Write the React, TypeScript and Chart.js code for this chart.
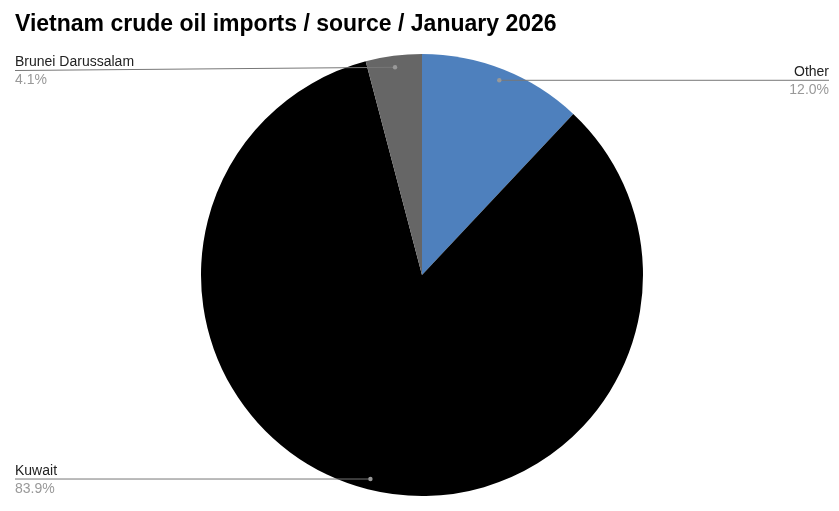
import React, { useEffect, useRef } from "react";
import { Chart, registerables } from "chart.js";

Chart.register(...registerables);

const TITLE = "Vietnam crude oil imports / source / January 2026";
const categories = ["Other", "Kuwait", "Brunei Darussalam"];
const values = [12.0, 83.9, 4.1];
const percentLabels = ["12.0%", "83.9%", "4.1%"];
const colors = ["#4e80bd", "#000000", "#666666"];
const labelSide = ["right", "left", "left"];

const labelPlugin = {
  id: "leaderLabels",
  afterDraw(chart: any) {
    const ctx = chart.ctx;
    const meta = chart.getDatasetMeta(0);
    ctx.save();
    // Title
    ctx.font = "bold 23px 'Liberation Sans', Arial, sans-serif";
    ctx.fillStyle = "#000";
    ctx.textAlign = "left";
    ctx.textBaseline = "alphabetic";
    ctx.fillText(TITLE, 15, 31);

    meta.data.forEach((arc: any, i: number) => {
      const p = arc.getProps(["x", "y", "startAngle", "endAngle", "outerRadius"], true);
      const mid = (p.startAngle + p.endAngle) / 2;
      const d = p.outerRadius * 0.95;
      const dx = p.x + Math.cos(mid) * d;
      const dy = p.y + Math.sin(mid) * d;
      const side = labelSide[i];
      let ly = dy;
      if (ly < 70) ly = 70;
      const lx = side === "right" ? 829 : 15;
      ctx.strokeStyle = "#777";
      ctx.lineWidth = 1;
      ctx.beginPath();
      ctx.moveTo(dx, dy + 0.5);
      ctx.lineTo(lx, ly + 0.5);
      ctx.stroke();
      ctx.fillStyle = "#999";
      ctx.beginPath();
      ctx.arc(dx, dy + 0.5, 2.2, 0, Math.PI * 2);
      ctx.fill();
      ctx.font = "14px 'Liberation Sans', Arial, sans-serif";
      ctx.textAlign = side === "right" ? "right" : "left";
      ctx.textBaseline = "alphabetic";
      ctx.fillStyle = "#222";
      ctx.fillText(categories[i], lx, ly - 4);
      ctx.fillStyle = "#999";
      ctx.fillText(percentLabels[i], lx, ly + 14);
    });
    ctx.restore();
  },
};

export default function App() {
  const ref = useRef<HTMLCanvasElement>(null);
  useEffect(() => {
    document.body.style.margin = "0";
    const chart = new Chart(ref.current as HTMLCanvasElement, {
      type: "pie",
      data: {
        labels: categories,
        datasets: [
          {
            data: values,
            backgroundColor: colors,
            borderWidth: 0,
          },
        ],
      },
      options: {
        responsive: false,
        animation: false,
        layout: { padding: { top: 54, bottom: 15, left: 5, right: 0 } },
        plugins: {
          legend: { display: false },
          title: { display: false },
          tooltip: { enabled: false },
        },
      },
      plugins: [labelPlugin],
    });
    return () => chart.destroy();
  }, []);
  return <canvas ref={ref} width={839} height={511} style={{ display: "block" }} />;
}
